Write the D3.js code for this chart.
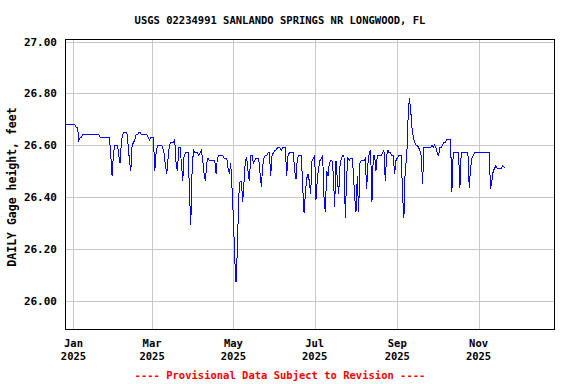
<!doctype html>
<html lang="en">
  <head>
    <meta charset="utf-8">
    <title>USGS 02234991 gage height</title>
    <script src="https://d3js.org/d3.v7.min.js"></script>
    <style>
      body { margin: 0; background: #fff; }
      text { font-family: "DejaVu Sans Mono", monospace; font-weight: bold; }
    </style>
  </head>
  <body>
    <div id="holder"></div>
  <script>
      // daily gage height (feet), first value is 2024-12-26
      const startDate = new Date(2024, 11, 26)
      const gageHeight = [
        26.68, 26.68, 26.68, 26.68, 26.68, 26.68, 26.68, 26.68, 26.67, 26.67,   // Dec 26 - Jan 4
        26.62, 26.63, 26.63, 26.64, 26.64, 26.64, 26.64, 26.64, 26.64, 26.64,
        26.64, 26.64, 26.64, 26.64, 26.64, 26.64, 26.63, 26.63, 26.63, 26.63,
        26.63, 26.63, 26.63, 26.63, 26.56, 26.48, 26.57, 26.60, 26.60, 26.60,   // Feb 3
        26.56, 26.53, 26.62, 26.64, 26.65, 26.65, 26.65, 26.60, 26.54, 26.50,
        26.60, 26.61, 26.62, 26.64, 26.64, 26.65, 26.65, 26.64, 26.64, 26.64,
        26.64, 26.64, 26.63, 26.62, 26.63, 26.63, 26.63, 26.50, 26.57, 26.60,   // Mar 5
        26.60, 26.60, 26.60, 26.59, 26.57, 26.52, 26.49, 26.55, 26.60, 26.61,
        26.61, 26.61, 26.62, 26.53, 26.50, 26.59, 26.59, 26.53, 26.46, 26.56,
        26.57, 26.57, 26.57, 26.43, 26.29, 26.50, 26.58, 26.57, 26.57, 26.57,   // Apr 4
        26.56, 26.57, 26.58, 26.54, 26.49, 26.46, 26.53, 26.55, 26.54, 26.54,
        26.54, 26.54, 26.54, 26.49, 26.55, 26.56, 26.56, 26.56, 26.56, 26.55,
        26.55, 26.55, 26.51, 26.49, 26.53, 26.43, 26.32, 26.16, 26.07, 26.20,   // May 4
        26.40, 26.46, 26.46, 26.38, 26.46, 26.54, 26.55, 26.50, 26.46, 26.56,
        26.56, 26.53, 26.54, 26.55, 26.55, 26.55, 26.49, 26.44, 26.52, 26.55,
        26.56, 26.56, 26.57, 26.57, 26.48, 26.56, 26.57, 26.58, 26.58, 26.59,   // Jun 3
        26.59, 26.59, 26.58, 26.59, 26.59, 26.59, 26.48, 26.56, 26.57, 26.57,
        26.57, 26.57, 26.50, 26.47, 26.55, 26.56, 26.56, 26.56, 26.44, 26.34,
        26.41, 26.47, 26.49, 26.46, 26.41, 26.54, 26.55, 26.56, 26.39, 26.47,   // Jul 3
        26.51, 26.54, 26.55, 26.56, 26.40, 26.34, 26.50, 26.48, 26.53, 26.54,
        26.54, 26.49, 26.36, 26.54, 26.47, 26.41, 26.52, 26.55, 26.56, 26.56,
        26.32, 26.48, 26.55, 26.54, 26.55, 26.55, 26.50, 26.40, 26.34, 26.48,   // Aug 2
        26.34, 26.53, 26.54, 26.54, 26.54, 26.55, 26.43, 26.53, 26.57, 26.58,
        26.38, 26.56, 26.56, 26.50, 26.56, 26.56, 26.56, 26.56, 26.57, 26.58,
        26.46, 26.56, 26.58, 26.57, 26.57, 26.56, 26.56, 26.49, 26.54, 26.55,   // Sep 1
        26.56, 26.56, 26.56, 26.40, 26.32, 26.52, 26.54, 26.69, 26.78, 26.74,
        26.67, 26.63, 26.61, 26.60, 26.60, 26.59, 26.58, 26.56, 26.45, 26.59,
        26.59, 26.59, 26.59, 26.59, 26.59, 26.60, 26.59, 26.60, 26.59, 26.57,   // Oct 1
        26.56, 26.59, 26.59, 26.60, 26.61, 26.61, 26.62, 26.62, 26.62, 26.62,
        26.42, 26.57, 26.57, 26.57, 26.57, 26.57, 26.435, 26.57, 26.57, 26.57,
        26.57, 26.57, 26.57, 26.435, 26.51, 26.55, 26.56, 26.57, 26.57, 26.57,  // Oct 31
        26.57, 26.57, 26.57, 26.57, 26.57, 26.57, 26.57, 26.57, 26.57, 26.43,
        26.46, 26.50, 26.51, 26.52, 26.51, 26.51, 26.51, 26.51, 26.52, 26.515,
        26.515
      ]

      const yTicks = [26.00, 26.20, 26.40, 26.60, 26.80, 27.00]
      const xTicks = [new Date(2025, 0, 1), new Date(2025, 2, 1), new Date(2025, 4, 1),
                      new Date(2025, 6, 1), new Date(2025, 8, 1), new Date(2025, 10, 1)]
      const monthNames = ['Jan', 'Mar', 'May', 'Jul', 'Sep', 'Nov']

      const w = 576
      const h = 384
      const plot = { left: 65.5, right: 554.5, top: 39.5, bottom: 329.5 }

      const data = gageHeight.map(function(v, i) {
          return { date: d3.timeDay.offset(startDate, i), value: v }
      })

      const x = d3.scaleTime()
          .domain([new Date(2024, 11, 26), new Date(2025, 11, 28)])
          .range([plot.left, plot.right])

      const y = d3.scaleLinear()
          .domain([25.888, 27.008])
          .range([plot.bottom, plot.top])

      const svg = d3.select('#holder')
          .append('svg')
          .attr('width', w)
          .attr('height', h)

      // grid
      svg.append('g')
          .attr('transform', 'translate(0,' + plot.bottom + ')')
          .call(d3.axisBottom(x).tickValues(xTicks).tickSize(-(plot.bottom - plot.top)).tickFormat(''))
          .call(function(g) { g.select('.domain').remove() })
          .selectAll('line')
          .attr('stroke', '#c8c8c8')
          .attr('shape-rendering', 'crispEdges')

      svg.append('g')
          .attr('transform', 'translate(' + plot.left + ',0)')
          .call(d3.axisLeft(y).tickValues(yTicks).tickSize(-(plot.right - plot.left)).tickFormat(''))
          .call(function(g) { g.select('.domain').remove() })
          .selectAll('line')
          .attr('stroke', '#c8c8c8')
          .attr('shape-rendering', 'crispEdges')

      // y tick labels
      svg.append('g')
          .selectAll('text')
          .data(yTicks)
          .enter()
          .append('text')
          .attr('x', 57)
          .attr('y', function(d) { return y(d) + 4 })
          .attr('text-anchor', 'end')
          .style('font-size', '11px')
          .text(function(d) { return d.toFixed(2) })

      // x tick labels
      const xLab = svg.append('g')
          .selectAll('text')
          .data(xTicks)
          .enter()
          .append('text')
          .attr('text-anchor', 'middle')
          .style('font-size', '10.5px')
      xLab.append('tspan')
          .attr('x', function(d) { return x(d) })
          .attr('y', 347)
          .text(function(d, i) { return monthNames[i] })
      xLab.append('tspan')
          .attr('x', function(d) { return x(d) })
          .attr('y', 360)
          .text('2025')

      // data line
      const line = d3.line()
          .x(function(d) { return x(d.date) })
          .y(function(d) { return y(d.value) })

      svg.append('path')
          .datum(data)
          .attr('d', line)
          .attr('fill', 'none')
          .attr('stroke', '#0000ff')
          .attr('stroke-width', 1)
          .attr('shape-rendering', 'crispEdges')

      // frame
      svg.append('rect')
          .attr('x', plot.left)
          .attr('y', plot.top)
          .attr('width', plot.right - plot.left)
          .attr('height', plot.bottom - plot.top)
          .attr('fill', 'none')
          .attr('stroke', '#000')
          .attr('shape-rendering', 'crispEdges')

      // titles
      svg.append('text')
          .text('USGS 02234991 SANLANDO SPRINGS NR LONGWOOD, FL')
          .attr('x', 280)
          .attr('y', 24)
          .attr('text-anchor', 'middle')
          .style('font-size', '10.5px')

      svg.append('text')
          .text('DAILY Gage height, feet')
          .attr('transform', 'translate(16,187) rotate(-90)')
          .attr('text-anchor', 'middle')
          .style('font-size', '11.5px')

      svg.append('text')
          .text('---- Provisional Data Subject to Revision ----')
          .attr('x', 280)
          .attr('y', 379)
          .attr('text-anchor', 'middle')
          .attr('fill', '#ff0000')
          .style('font-size', '10.5px')
  </script>
  </body>
</html>
